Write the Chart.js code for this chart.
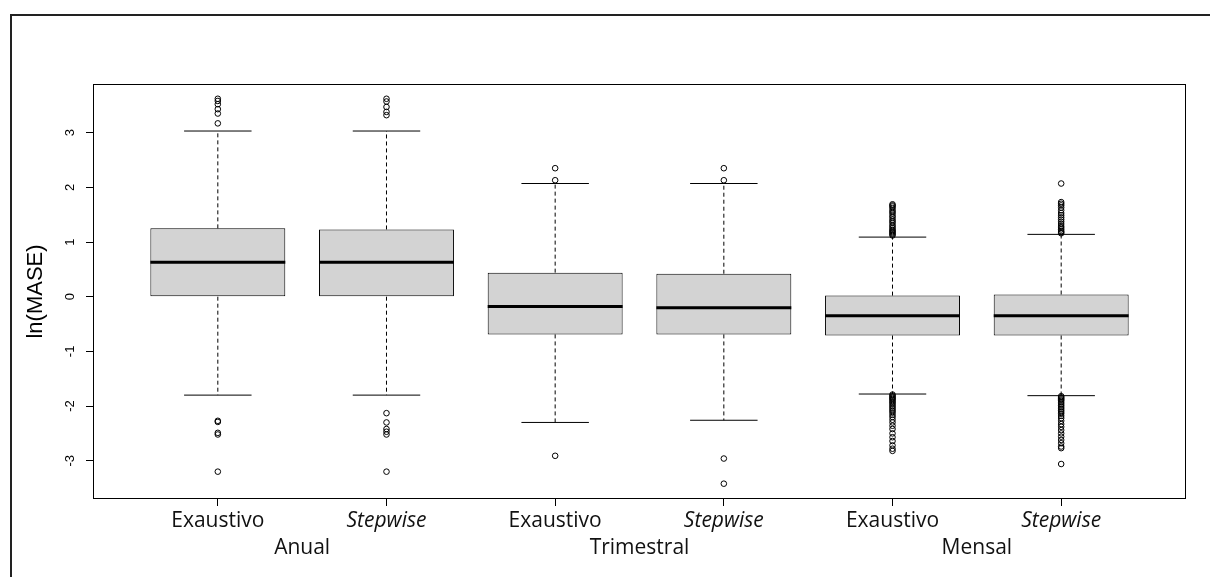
<!DOCTYPE html>
<html>
<head>
<meta charset="utf-8">
<script src="https://cdn.jsdelivr.net/npm/chart.js@4.4.1/dist/chart.umd.min.js"></script>
<style>
  html, body { margin: 0; padding: 0; background: #fff; }
  #wrap { position: relative; width: 1210px; height: 577px; overflow: hidden; }
  #frame { position: absolute; left: 10px; top: 14px; width: 1230px; height: 600px;
           border-top: 2px solid #222; border-left: 2px solid #222; pointer-events: none; }
</style>
</head>
<body>
<div id="wrap">
  <canvas id="chart" width="1210" height="577"></canvas>
  <div id="frame"></div>
</div>
<script>
// categorias
const groups = ["Anual", "Trimestral", "Mensal"];
const methods = ["Exaustivo", "Stepwise", "Exaustivo", "Stepwise", "Exaustivo", "Stepwise"];
const yTicks = [-3, -2, -1, 0, 1, 2, 3];

// estatisticas das caixas (ln MASE)
const q1 = [0.00, 0.00, -0.69, -0.69, -0.71, -0.71];
const medians = [0.63, 0.63, -0.18, -0.20, -0.35, -0.35];
const q3 = [1.25, 1.23, 0.44, 0.42, 0.02, 0.04];
const lowerWhisker = [-1.80, -1.80, -2.30, -2.26, -1.78, -1.81];
const upperWhisker = [3.03, 3.03, 2.07, 2.07, 1.09, 1.14];

// outliers de cada caixa
const outAnualExa = [3.62, 3.58, 3.52, 3.43, 3.35, 3.17, -2.27, -2.29, -2.49, -2.52, -3.20];
const outAnualStep = [3.62, 3.57, 3.47, 3.38, 3.32, -2.13, -2.30, -2.42, -2.47, -2.52, -3.20];
const outTrimExa = [2.35, 2.13, -2.91];
const outTrimStep = [2.35, 2.13, -2.96, -3.42];
const outMensExa = [1.69, 1.67, 1.65, 1.62, 1.58, 1.55, 1.52, 1.48, 1.45, 1.41, 1.38, 1.35,
  1.31, 1.28, 1.25, 1.22, 1.20, 1.18, 1.16, 1.14, 1.12,
  -1.79, -1.81, -1.83, -1.85, -1.87, -1.89, -1.92, -1.94, -1.97, -2.00, -2.03, -2.06,
  -2.09, -2.12, -2.16, -2.20, -2.25, -2.30, -2.36, -2.42, -2.50, -2.57, -2.64, -2.72, -2.78, -2.82];
const outMensStep = [2.07, 1.73, 1.70, 1.67, 1.63, 1.58, 1.53, 1.49, 1.45, 1.41, 1.37, 1.33,
  1.29, 1.26, 1.23, 1.20, 1.18, 1.16,
  -1.82, -1.84, -1.86, -1.88, -1.90, -1.93, -1.96, -1.99, -2.02, -2.05, -2.08, -2.11,
  -2.14, -2.18, -2.22, -2.27, -2.33, -2.38, -2.44, -2.50, -2.56, -2.62, -2.68, -2.74, -2.77, -3.06];
const outliers = [outAnualExa, outAnualStep, outTrimExa, outTrimStep, outMensExa, outMensStep];

const BOX_HALF = 0.4;
const CAP_HALF = 0.2;

// monta os dados para o Chart.js a partir dos arrays
const positions = methods.map((m, i) => i + 1);
const boxData = positions.map((x, i) => ({ x, y: [q1[i], q3[i]] }));

function hSegments(values, half) {
    const pts = [];
    positions.forEach((x, i) => {
        pts.push({ x: x - half, y: values[i] }, { x: x + half, y: values[i] }, { x: x + half, y: null });
    });
    return pts;
}

const whiskerData = [];
positions.forEach((x, i) => {
    whiskerData.push({ x, y: q3[i] }, { x, y: upperWhisker[i] }, { x, y: null });
    whiskerData.push({ x, y: q1[i] }, { x, y: lowerWhisker[i] }, { x, y: null });
});

const capData = hSegments(upperWhisker, CAP_HALF).concat(hSegments(lowerWhisker, CAP_HALF));
const medianData = hSegments(medians, BOX_HALF);
const outlierData = [];
outliers.forEach((arr, i) => arr.forEach(v => outlierData.push({ x: i + 1, y: v })));

// caixa do grafico + rotulos do eixo y (girados, estilo R)
const plotFrame = {
    id: "plotFrame",
    afterDraw(chart) {
        const { ctx, chartArea: a, scales } = chart;
        ctx.save();
        ctx.strokeStyle = "#000";
        ctx.lineWidth = 1;
        ctx.strokeRect(a.left + 0.5, a.top + 0.5, a.right - a.left - 1, a.bottom - a.top - 1);
        ctx.fillStyle = "#000";
        ctx.font = "13px 'Liberation Sans', Arial, sans-serif";
        ctx.textAlign = "center";
        ctx.textBaseline = "middle";
        yTicks.forEach(v => {
            ctx.save();
            ctx.translate(a.left - 23, scales.y.getPixelForValue(v));
            ctx.rotate(-Math.PI / 2);
            ctx.fillText(String(v), 0, 0);
            ctx.restore();
        });
        ctx.restore();
    }
};

const labelFont = "'Open Sans', 'Noto Sans', sans-serif";

new Chart(document.getElementById("chart"), {
    type: "scatter",
    data: {
        datasets: [
            {
                type: "bar",
                data: boxData,
                backgroundColor: "#d3d3d3",
                borderColor: "#000",
                borderWidth: 1,
                borderSkipped: false,
                categoryPercentage: 1,
                barPercentage: 0.8,
                xAxisID: "x",
                order: 4
            },
            {
                type: "line",
                data: whiskerData,
                borderColor: "#000",
                borderWidth: 1,
                borderDash: [4, 3],
                pointRadius: 0,
                spanGaps: false,
                xAxisID: "x",
                order: 5
            },
            {
                type: "line",
                data: capData,
                borderColor: "#000",
                borderWidth: 1,
                pointRadius: 0,
                spanGaps: false,
                xAxisID: "x",
                order: 3
            },
            {
                type: "line",
                data: medianData,
                borderColor: "#000",
                borderWidth: 3,
                pointRadius: 0,
                spanGaps: false,
                xAxisID: "x",
                order: 1
            },
            {
                type: "scatter",
                data: outlierData,
                pointStyle: "circle",
                pointRadius: 2.8,
                borderWidth: 1,
                borderColor: "#000",
                backgroundColor: "rgba(0,0,0,0)",
                xAxisID: "x",
                order: 2
            }
        ]
    },
    options: {
        responsive: false,
        animation: false,
        devicePixelRatio: 1,
        layout: { padding: { left: 0, top: 84, right: 24, bottom: 0 } },
        plugins: { legend: { display: false }, tooltip: { enabled: false } },
        scales: {
            x: {
                type: "linear",
                position: "bottom",
                min: 0.26,
                max: 6.74,
                offset: false,
                afterBuildTicks: scale => { scale.ticks = positions.map(v => ({ value: v })); },
                afterFit: scale => { scale.height = 36; },
                grid: { display: true, offset: false, drawOnChartArea: false, drawTicks: true, tickLength: 7, color: "#000" },
                border: { display: false },
                ticks: {
                    autoSkip: false,
                    maxRotation: 0,
                    padding: 2,
                    color: "#111",
                    font: ctx => ({ family: labelFont, size: 21, style: ctx.index % 2 === 1 ? "italic" : "normal" }),
                    callback: v => methods[Math.round(v) - 1] || ""
                }
            },
            x2: {
                type: "linear",
                position: "bottom",
                min: 0.26,
                max: 6.74,
                offset: false,
                afterBuildTicks: scale => { scale.ticks = [1.5, 3.5, 5.5].map(v => ({ value: v })); },
                afterFit: scale => { scale.height = 42; },
                grid: { display: false, offset: false, drawTicks: false, tickLength: 0 },
                border: { display: false },
                ticks: {
                    autoSkip: false,
                    maxRotation: 0,
                    padding: 0,
                    color: "#111",
                    font: { family: labelFont, size: 21 },
                    callback: v => groups[Math.round((v - 1.5) / 2)] || ""
                }
            },
            y: {
                type: "linear",
                min: -3.70,
                max: 3.89,
                afterBuildTicks: scale => { scale.ticks = yTicks.map(v => ({ value: v })); },
                afterFit: scale => { scale.width = 93; },
                grid: { display: true, drawOnChartArea: false, drawTicks: true, tickLength: 7, color: "#000" },
                border: { display: false },
                ticks: { display: false },
                title: {
                    display: true,
                    text: "ln(MASE)",
                    color: "#000",
                    font: { family: "'Liberation Sans', Arial, sans-serif", size: 22 },
                    padding: { top: 23, bottom: 0 }
                }
            }
        }
    },
    plugins: [plotFrame]
});
</script>
</body>
</html>
